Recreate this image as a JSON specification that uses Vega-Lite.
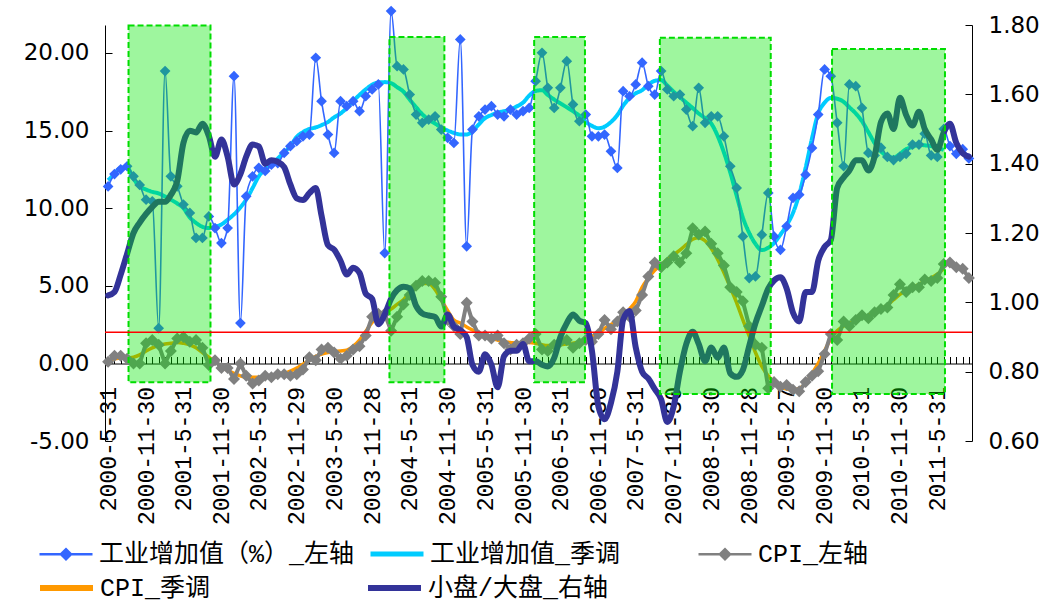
{
"$schema": "https://vega.github.io/schema/vega-lite/v6.json",
"width": 867, "height": 416,
"autosize": {"type": "none"},
"padding": {"left": 105, "top": 25, "right": 73, "bottom": 162},
"background": "white",
"config": {"view": {"stroke": null}, "legend": {"labelFont": "Liberation Mono, Noto Sans CJK SC", "labelFontSize": 25, "labelColor": "#000000", "labelLimit": 500, "symbolSize": 400, "labelOffset": 20.5, "gridAlign": "all"}},
"datasets": {
"m": [
{"d":"2000-05-01","ip":11.4,"ipsa":11.8,"cpi":0.1,"cpisa":0.2,"r":1.02},
{"d":"2000-06-01","ip":12.2,"ipsa":12.2,"cpi":0.5,"cpisa":0.3,"r":1.03},
{"d":"2000-07-01","ip":12.5,"ipsa":12.6,"cpi":0.5,"cpisa":0.35,"r":1.08},
{"d":"2000-08-01","ip":12.7,"ipsa":12.6,"cpi":0.3,"cpisa":0.35,"r":1.14},
{"d":"2000-09-01","ip":12.05,"ipsa":11.9,"cpi":0.0,"cpisa":0.4,"r":1.20},
{"d":"2000-10-01","ip":11.5,"ipsa":11.4,"cpi":0.0,"cpisa":0.55,"r":1.23},
{"d":"2000-11-01","ip":10.55,"ipsa":11.2,"cpi":1.3,"cpisa":0.8,"r":1.255},
{"d":"2000-12-01","ip":10.44,"ipsa":11.05,"cpi":1.5,"cpisa":1.0,"r":1.275},
{"d":"2001-01-01","ip":2.27,"ipsa":10.95,"cpi":1.2,"cpisa":1.15,"r":1.29},
{"d":"2001-02-01","ip":18.83,"ipsa":10.75,"cpi":0.0,"cpisa":1.25,"r":1.29},
{"d":"2001-03-01","ip":12.05,"ipsa":10.55,"cpi":0.8,"cpisa":1.3,"r":1.31},
{"d":"2001-04-01","ip":11.41,"ipsa":10.3,"cpi":1.6,"cpisa":1.35,"r":1.35},
{"d":"2001-05-01","ip":10.23,"ipsa":10.0,"cpi":1.7,"cpisa":1.3,"r":1.46},
{"d":"2001-06-01","ip":9.69,"ipsa":9.4,"cpi":1.4,"cpisa":1.2,"r":1.495},
{"d":"2001-07-01","ip":8.08,"ipsa":9.05,"cpi":1.5,"cpisa":1.0,"r":1.49},
{"d":"2001-08-01","ip":8.08,"ipsa":8.8,"cpi":1.0,"cpisa":0.7,"r":1.515},
{"d":"2001-09-01","ip":9.47,"ipsa":8.72,"cpi":-0.1,"cpisa":0.4,"r":1.48},
{"d":"2001-10-01","ip":8.72,"ipsa":8.8,"cpi":0.2,"cpisa":0.1,"r":1.42},
{"d":"2001-11-01","ip":7.75,"ipsa":8.95,"cpi":-0.3,"cpisa":-0.2,"r":1.47},
{"d":"2001-12-01","ip":8.72,"ipsa":9.25,"cpi":-0.3,"cpisa":-0.45,"r":1.42},
{"d":"2002-01-01","ip":18.5,"ipsa":9.6,"cpi":-1.0,"cpisa":-0.65,"r":1.34},
{"d":"2002-02-01","ip":2.6,"ipsa":10.05,"cpi":0.0,"cpisa":-0.8,"r":1.37},
{"d":"2002-03-01","ip":10.76,"ipsa":10.55,"cpi":-0.8,"cpisa":-0.9,"r":1.42},
{"d":"2002-04-01","ip":12.05,"ipsa":11.3,"cpi":-1.3,"cpisa":-0.9,"r":1.455},
{"d":"2002-05-01","ip":12.6,"ipsa":12.05,"cpi":-1.1,"cpisa":-0.9,"r":1.45},
{"d":"2002-06-01","ip":12.4,"ipsa":12.5,"cpi":-0.8,"cpisa":-0.85,"r":1.40},
{"d":"2002-07-01","ip":12.8,"ipsa":12.8,"cpi":-0.9,"cpisa":-0.8,"r":1.41},
{"d":"2002-08-01","ip":12.9,"ipsa":13.2,"cpi":-0.7,"cpisa":-0.75,"r":1.405},
{"d":"2002-09-01","ip":13.56,"ipsa":13.6,"cpi":-0.7,"cpisa":-0.65,"r":1.39},
{"d":"2002-10-01","ip":13.99,"ipsa":14.0,"cpi":-0.8,"cpisa":-0.5,"r":1.34},
{"d":"2002-11-01","ip":14.31,"ipsa":14.6,"cpi":-0.7,"cpisa":-0.3,"r":1.30},
{"d":"2002-12-01","ip":14.63,"ipsa":14.9,"cpi":-0.4,"cpisa":-0.05,"r":1.295},
{"d":"2003-01-01","ip":14.74,"ipsa":15.1,"cpi":0.4,"cpisa":0.2,"r":1.315},
{"d":"2003-02-01","ip":19.69,"ipsa":15.2,"cpi":0.2,"cpisa":0.45,"r":1.33},
{"d":"2003-03-01","ip":16.89,"ipsa":15.35,"cpi":0.9,"cpisa":0.6,"r":1.25},
{"d":"2003-04-01","ip":14.74,"ipsa":15.55,"cpi":1.0,"cpisa":0.7,"r":1.165},
{"d":"2003-05-01","ip":13.56,"ipsa":15.85,"cpi":0.7,"cpisa":0.75,"r":1.152},
{"d":"2003-06-01","ip":16.89,"ipsa":16.1,"cpi":0.3,"cpisa":0.8,"r":1.12},
{"d":"2003-07-01","ip":16.57,"ipsa":16.45,"cpi":0.5,"cpisa":0.85,"r":1.08},
{"d":"2003-08-01","ip":16.89,"ipsa":16.9,"cpi":0.9,"cpisa":1.1,"r":1.10},
{"d":"2003-09-01","ip":16.25,"ipsa":17.3,"cpi":1.1,"cpisa":1.5,"r":1.085},
{"d":"2003-10-01","ip":17.21,"ipsa":17.65,"cpi":1.8,"cpisa":2.05,"r":1.025},
{"d":"2003-11-01","ip":17.65,"ipsa":17.95,"cpi":3.0,"cpisa":2.65,"r":1.01},
{"d":"2003-12-01","ip":17.97,"ipsa":18.1,"cpi":3.2,"cpisa":3.0,"r":0.937},
{"d":"2004-01-01","ip":7.11,"ipsa":18.12,"cpi":3.2,"cpisa":3.25,"r":0.965},
{"d":"2004-02-01","ip":22.7,"ipsa":18.05,"cpi":2.1,"cpisa":3.5,"r":1.01},
{"d":"2004-03-01","ip":19.15,"ipsa":17.8,"cpi":3.0,"cpisa":3.8,"r":1.035},
{"d":"2004-04-01","ip":18.94,"ipsa":17.5,"cpi":3.8,"cpisa":4.1,"r":1.045},
{"d":"2004-05-01","ip":17.32,"ipsa":17.0,"cpi":4.4,"cpisa":4.6,"r":1.04},
{"d":"2004-06-01","ip":16.03,"ipsa":16.5,"cpi":5.0,"cpisa":5.0,"r":0.99},
{"d":"2004-07-01","ip":15.5,"ipsa":16.05,"cpi":5.3,"cpisa":5.15,"r":0.968},
{"d":"2004-08-01","ip":15.71,"ipsa":15.7,"cpi":5.3,"cpisa":5.15,"r":0.962},
{"d":"2004-09-01","ip":15.92,"ipsa":15.45,"cpi":5.2,"cpisa":4.75,"r":0.958},
{"d":"2004-10-01","ip":15.06,"ipsa":15.2,"cpi":4.3,"cpisa":4.1,"r":0.93},
{"d":"2004-11-01","ip":14.53,"ipsa":15.0,"cpi":2.8,"cpisa":3.4,"r":0.965},
{"d":"2004-12-01","ip":14.2,"ipsa":14.85,"cpi":2.4,"cpisa":2.8,"r":0.93},
{"d":"2005-01-01","ip":20.87,"ipsa":14.75,"cpi":1.9,"cpisa":2.6,"r":0.92},
{"d":"2005-02-01","ip":7.54,"ipsa":14.75,"cpi":3.9,"cpisa":2.35,"r":0.90},
{"d":"2005-03-01","ip":15.06,"ipsa":14.95,"cpi":2.7,"cpisa":2.15,"r":0.82},
{"d":"2005-04-01","ip":15.92,"ipsa":15.4,"cpi":1.8,"cpisa":1.95,"r":0.80},
{"d":"2005-05-01","ip":16.35,"ipsa":15.8,"cpi":1.8,"cpisa":1.8,"r":0.85},
{"d":"2005-06-01","ip":16.57,"ipsa":16.0,"cpi":1.6,"cpisa":1.65,"r":0.82},
{"d":"2005-07-01","ip":16.03,"ipsa":16.15,"cpi":1.8,"cpisa":1.5,"r":0.755},
{"d":"2005-08-01","ip":15.92,"ipsa":16.25,"cpi":1.3,"cpisa":1.4,"r":0.845},
{"d":"2005-09-01","ip":16.35,"ipsa":16.35,"cpi":0.9,"cpisa":1.35,"r":0.86},
{"d":"2005-10-01","ip":16.03,"ipsa":16.55,"cpi":1.2,"cpisa":1.3,"r":0.86},
{"d":"2005-11-01","ip":16.25,"ipsa":16.8,"cpi":1.3,"cpisa":1.35,"r":0.88},
{"d":"2005-12-01","ip":16.46,"ipsa":17.25,"cpi":1.6,"cpisa":1.35,"r":0.83},
{"d":"2006-01-01","ip":18.18,"ipsa":17.55,"cpi":1.9,"cpisa":1.3,"r":0.83},
{"d":"2006-02-01","ip":20.01,"ipsa":17.6,"cpi":0.9,"cpisa":1.2,"r":0.82},
{"d":"2006-03-01","ip":17.75,"ipsa":17.3,"cpi":0.8,"cpisa":1.15,"r":0.815},
{"d":"2006-04-01","ip":16.46,"ipsa":17.0,"cpi":1.2,"cpisa":1.15,"r":0.84},
{"d":"2006-05-01","ip":17.75,"ipsa":16.75,"cpi":1.4,"cpisa":1.2,"r":0.90},
{"d":"2006-06-01","ip":19.47,"ipsa":16.5,"cpi":1.5,"cpisa":1.25,"r":0.94},
{"d":"2006-07-01","ip":16.68,"ipsa":16.25,"cpi":1.0,"cpisa":1.3,"r":0.965},
{"d":"2006-08-01","ip":15.6,"ipsa":15.95,"cpi":1.3,"cpisa":1.4,"r":0.947},
{"d":"2006-09-01","ip":16.03,"ipsa":15.55,"cpi":1.5,"cpisa":1.6,"r":0.94},
{"d":"2006-10-01","ip":14.63,"ipsa":15.3,"cpi":1.4,"cpisa":1.75,"r":0.86},
{"d":"2006-11-01","ip":14.63,"ipsa":15.15,"cpi":1.9,"cpisa":1.95,"r":0.70},
{"d":"2006-12-01","ip":14.74,"ipsa":15.25,"cpi":2.8,"cpisa":2.25,"r":0.663},
{"d":"2007-01-01","ip":13.66,"ipsa":15.55,"cpi":2.2,"cpisa":2.5,"r":0.71},
{"d":"2007-02-01","ip":12.59,"ipsa":16.0,"cpi":2.7,"cpisa":2.75,"r":0.80},
{"d":"2007-03-01","ip":17.54,"ipsa":16.6,"cpi":3.3,"cpisa":3.05,"r":0.95},
{"d":"2007-04-01","ip":17.21,"ipsa":17.1,"cpi":3.0,"cpisa":3.5,"r":0.975},
{"d":"2007-05-01","ip":17.97,"ipsa":17.4,"cpi":3.4,"cpisa":4.0,"r":0.87},
{"d":"2007-06-01","ip":19.37,"ipsa":17.6,"cpi":4.4,"cpisa":4.9,"r":0.80},
{"d":"2007-07-01","ip":17.86,"ipsa":17.95,"cpi":5.6,"cpisa":5.5,"r":0.78},
{"d":"2007-08-01","ip":17.32,"ipsa":18.2,"cpi":6.5,"cpisa":6.0,"r":0.75},
{"d":"2007-09-01","ip":18.83,"ipsa":18.25,"cpi":6.2,"cpisa":6.35,"r":0.72},
{"d":"2007-10-01","ip":17.65,"ipsa":17.9,"cpi":6.5,"cpisa":6.7,"r":0.655},
{"d":"2007-11-01","ip":17.21,"ipsa":17.5,"cpi":6.9,"cpisa":7.0,"r":0.70},
{"d":"2007-12-01","ip":17.32,"ipsa":17.15,"cpi":6.5,"cpisa":7.3,"r":0.80},
{"d":"2008-01-01","ip":16.35,"ipsa":16.8,"cpi":7.1,"cpisa":7.65,"r":0.88},
{"d":"2008-02-01","ip":15.28,"ipsa":16.45,"cpi":8.7,"cpisa":8.0,"r":0.915},
{"d":"2008-03-01","ip":17.75,"ipsa":16.1,"cpi":8.3,"cpisa":8.1,"r":0.88},
{"d":"2008-04-01","ip":15.5,"ipsa":15.8,"cpi":8.5,"cpisa":7.9,"r":0.83},
{"d":"2008-05-01","ip":15.92,"ipsa":15.45,"cpi":7.7,"cpisa":7.4,"r":0.87},
{"d":"2008-06-01","ip":15.92,"ipsa":14.65,"cpi":7.1,"cpisa":6.7,"r":0.84},
{"d":"2008-07-01","ip":14.63,"ipsa":13.6,"cpi":6.3,"cpisa":5.85,"r":0.87},
{"d":"2008-08-01","ip":12.7,"ipsa":12.3,"cpi":4.9,"cpisa":4.9,"r":0.795},
{"d":"2008-09-01","ip":11.3,"ipsa":10.8,"cpi":4.6,"cpisa":3.9,"r":0.785},
{"d":"2008-10-01","ip":8.18,"ipsa":9.4,"cpi":4.0,"cpisa":2.8,"r":0.805},
{"d":"2008-11-01","ip":5.5,"ipsa":8.4,"cpi":2.4,"cpisa":1.75,"r":0.875},
{"d":"2008-12-01","ip":5.6,"ipsa":7.7,"cpi":1.2,"cpisa":0.7,"r":0.94},
{"d":"2009-01-01","ip":8.29,"ipsa":7.3,"cpi":1.0,"cpisa":-0.2,"r":0.99},
{"d":"2009-02-01","ip":10.98,"ipsa":7.45,"cpi":-1.6,"cpisa":-0.8,"r":1.04},
{"d":"2009-03-01","ip":8.18,"ipsa":7.75,"cpi":-1.2,"cpisa":-1.2,"r":1.063},
{"d":"2009-04-01","ip":7.32,"ipsa":8.3,"cpi":-1.5,"cpisa":-1.5,"r":1.072},
{"d":"2009-05-01","ip":8.83,"ipsa":8.9,"cpi":-1.4,"cpisa":-1.65,"r":1.04},
{"d":"2009-06-01","ip":10.66,"ipsa":9.7,"cpi":-1.7,"cpisa":-1.7,"r":0.97},
{"d":"2009-07-01","ip":10.87,"ipsa":10.9,"cpi":-1.8,"cpisa":-1.6,"r":0.945},
{"d":"2009-08-01","ip":12.16,"ipsa":12.6,"cpi":-1.2,"cpisa":-1.3,"r":1.03},
{"d":"2009-09-01","ip":13.88,"ipsa":14.5,"cpi":-0.8,"cpisa":-0.65,"r":1.03},
{"d":"2009-10-01","ip":16.03,"ipsa":16.1,"cpi":-0.5,"cpisa":0.0,"r":1.12},
{"d":"2009-11-01","ip":18.94,"ipsa":16.8,"cpi":0.6,"cpisa":0.8,"r":1.16},
{"d":"2009-12-01","ip":18.5,"ipsa":17.1,"cpi":1.9,"cpisa":1.6,"r":1.18},
{"d":"2010-01-01","ip":15.5,"ipsa":17.05,"cpi":1.5,"cpisa":2.1,"r":1.33},
{"d":"2010-02-01","ip":12.7,"ipsa":16.85,"cpi":2.7,"cpisa":2.4,"r":1.36},
{"d":"2010-03-01","ip":17.97,"ipsa":16.5,"cpi":2.4,"cpisa":2.6,"r":1.38},
{"d":"2010-04-01","ip":17.86,"ipsa":16.1,"cpi":2.8,"cpisa":2.75,"r":1.41},
{"d":"2010-05-01","ip":16.46,"ipsa":15.6,"cpi":3.1,"cpisa":2.95,"r":1.41},
{"d":"2010-06-01","ip":13.56,"ipsa":14.9,"cpi":2.9,"cpisa":3.1,"r":1.38},
{"d":"2010-07-01","ip":13.4,"ipsa":14.2,"cpi":3.3,"cpisa":3.3,"r":1.42},
{"d":"2010-08-01","ip":13.9,"ipsa":13.65,"cpi":3.5,"cpisa":3.5,"r":1.52},
{"d":"2010-09-01","ip":13.3,"ipsa":13.35,"cpi":3.6,"cpisa":3.75,"r":1.545},
{"d":"2010-10-01","ip":13.1,"ipsa":13.25,"cpi":4.4,"cpisa":4.1,"r":1.50},
{"d":"2010-11-01","ip":13.3,"ipsa":13.5,"cpi":5.1,"cpisa":4.45,"r":1.59},
{"d":"2010-12-01","ip":13.5,"ipsa":13.8,"cpi":4.6,"cpisa":4.7,"r":1.54},
{"d":"2011-01-01","ip":14.1,"ipsa":13.95,"cpi":4.9,"cpisa":4.9,"r":1.51},
{"d":"2011-02-01","ip":14.1,"ipsa":14.1,"cpi":4.9,"cpisa":5.1,"r":1.55},
{"d":"2011-03-01","ip":14.8,"ipsa":14.05,"cpi":5.4,"cpisa":5.3,"r":1.50},
{"d":"2011-04-01","ip":13.4,"ipsa":14.0,"cpi":5.3,"cpisa":5.5,"r":1.47},
{"d":"2011-05-01","ip":13.3,"ipsa":13.9,"cpi":5.5,"cpisa":5.75,"r":1.44},
{"d":"2011-06-01","ip":15.1,"ipsa":13.75,"cpi":6.4,"cpisa":6.1,"r":1.49},
{"d":"2011-07-01","ip":14.0,"cpi":6.5,"r":1.515},
{"d":"2011-08-01","ip":13.5,"cpi":6.2,"r":1.46},
{"d":"2011-09-01","ip":13.8,"cpi":6.1,"r":1.43},
{"d":"2011-10-01","ip":13.2,"cpi":5.5,"r":1.42}
],
"z": [
{"start":"2000-08-08","end":"2001-09-09","top":21.77,"bottom":-1.22},
{"start":"2004-01-24","end":"2004-10-16","top":21.02,"bottom":-1.22},
{"start":"2005-12-25","end":"2006-08-28","top":21.02,"bottom":-1.22},
{"start":"2007-08-26","end":"2009-02-13","top":20.98,"bottom":-1.97},
{"start":"2009-12-07","end":"2011-06-07","top":20.25,"bottom":-1.97}
]
},
"resolve": {"scale": {"y": "independent"}, "axis": {"y": "independent"}},
"layer": [
{
"data": {"name": "m"},
"layer": [
{"mark": {"type": "line", "strokeWidth": 4, "interpolate": "monotone", "color": "#00CCFF"},
 "encoding": {
  "x": {"field": "d", "type": "temporal", "scale": {"type": "utc", "domain": [{"year": 2000, "month": 4, "date": 16, "utc": true}, {"year": 2011, "month": 10, "date": 16, "utc": true}]},
   "axis": {"title": null, "offset": -77.5, "grid": false, "domainColor": "#000000", "domainWidth": 1, "tickColor": "#000000", "tickSize": -7, "tickWidth": 1,
    "tickCount": {"interval": "month", "step": 1},
    "labelExpr": "(utcmonth(datum.value) == 4 || utcmonth(datum.value) == 10) ? (utcyear(datum.value) + '-' + (utcmonth(datum.value) + 1) + '-' + (indexof(['2002-11','2003-05','2003-11','2008-05','2008-11','2009-05'], utcFormat(datum.value, '%Y-%m')) >= 0 ? ['29','30','28','30','28','27'][indexof(['2002-11','2003-05','2003-11','2008-05','2008-11','2009-05'], utcFormat(datum.value, '%Y-%m'))] : (utcmonth(datum.value) == 4 ? '31' : '30'))) : ''",
    "labelAngle": 270, "labelAlign": "right", "labelBaseline": "middle", "labelPadding": 30, "labelFont": "Liberation Mono", "labelFontSize": 23, "labelColor": "#000000", "labelOverlap": false, "labelFlush": false, "labelBound": false}},
  "y": {"field": "ipsa", "type": "quantitative", "scale": {"domain": [-5, 21.8], "nice": false, "zero": false},
   "axis": {"title": null, "orient": "left", "values": [-5, 0, 5, 10, 15, 20], "labelExpr": "replace(format(datum.value, '.2f'), '\u2212', '-')", "grid": false, "domainColor": "#000000", "tickColor": "#000000", "tickSize": -7, "labelPadding": 23, "labelFont": "DejaVu Sans", "labelFontSize": 23, "labelColor": "#000000", "labelFlush": false, "labelOverlap": false, "labelBound": false}},
  "strokeDash": {"datum": "工业增加值_季调", "type": "nominal", "scale": {"domain": ["工业增加值_季调"], "range": [[1, 0]]},
   "legend": {"title": null, "orient": "none", "legendX": 279.5, "legendY": 516.5, "symbolType": "M-2.65,0H2.65", "symbolStrokeWidth": 5, "symbolStrokeColor": "#00CCFF"}}
 }},
{"mark": {"type": "line", "strokeWidth": 1.6, "interpolate": "monotone"},
 "encoding": {
  "x": {"field": "d", "type": "temporal", "scale": {"type": "utc", "domain": [{"year": 2000, "month": 4, "date": 16, "utc": true}, {"year": 2011, "month": 10, "date": 16, "utc": true}]}, "axis": {"title": null}},
  "y": {"field": "ip", "type": "quantitative", "scale": {"domain": [-5, 21.8], "nice": false, "zero": false}, "axis": {"title": null}},
  "color": {"datum": "工业增加值（%）_左轴", "type": "nominal", "scale": {"domain": ["工业增加值（%）_左轴", "CPI_左轴"], "range": ["#3366FF", "#808080"]},
   "legend": {"title": null, "orient": "none", "legendX": -51.5, "legendY": 516.5, "direction": "horizontal", "columns": 2, "columnPadding": 339, "symbolType": "M-2.65,0H2.65M-0.5,0L0,-0.5L0.5,0L0,0.5Z", "symbolStrokeWidth": 2.5}}
 }},
{"mark": {"type": "point", "shape": "diamond", "filled": true, "size": 115, "opacity": 1},
 "encoding": {
  "x": {"field": "d", "type": "temporal", "scale": {"type": "utc", "domain": [{"year": 2000, "month": 4, "date": 16, "utc": true}, {"year": 2011, "month": 10, "date": 16, "utc": true}]}, "axis": {"title": null}},
  "y": {"field": "ip", "type": "quantitative", "scale": {"domain": [-5, 21.8], "nice": false, "zero": false}, "axis": {"title": null}},
  "color": {"datum": "工业增加值（%）_左轴", "type": "nominal", "scale": {"domain": ["工业增加值（%）_左轴", "CPI_左轴"], "range": ["#3366FF", "#808080"]}}
 }},
{"mark": {"type": "line", "strokeWidth": 3.5, "interpolate": "monotone"},
 "encoding": {
  "x": {"field": "d", "type": "temporal", "scale": {"type": "utc", "domain": [{"year": 2000, "month": 4, "date": 16, "utc": true}, {"year": 2011, "month": 10, "date": 16, "utc": true}]}, "axis": {"title": null}},
  "y": {"field": "cpisa", "type": "quantitative", "scale": {"domain": [-5, 21.8], "nice": false, "zero": false}, "axis": {"title": null}},
  "stroke": {"datum": "CPI_季调", "type": "nominal", "scale": {"domain": ["CPI_季调", "小盘/大盘_右轴"], "range": ["#FF9900", "#333399"]},
   "legend": {"title": null, "orient": "none", "legendX": -51.5, "legendY": 550, "direction": "horizontal", "columns": 2, "columnPadding": 75, "symbolType": "M-2.65,0H2.65", "symbolStrokeWidth": 6}}
 }},
{"mark": {"type": "line", "strokeWidth": 4},
 "encoding": {
  "x": {"field": "d", "type": "temporal", "scale": {"type": "utc", "domain": [{"year": 2000, "month": 4, "date": 16, "utc": true}, {"year": 2011, "month": 10, "date": 16, "utc": true}]}, "axis": {"title": null}},
  "y": {"field": "cpi", "type": "quantitative", "scale": {"domain": [-5, 21.8], "nice": false, "zero": false}, "axis": {"title": null}},
  "color": {"datum": "CPI_左轴", "type": "nominal", "scale": {"domain": ["工业增加值（%）_左轴", "CPI_左轴"], "range": ["#3366FF", "#808080"]}}
 }},
{"mark": {"type": "point", "shape": "diamond", "filled": true, "size": 144, "opacity": 1},
 "encoding": {
  "x": {"field": "d", "type": "temporal", "scale": {"type": "utc", "domain": [{"year": 2000, "month": 4, "date": 16, "utc": true}, {"year": 2011, "month": 10, "date": 16, "utc": true}]}, "axis": {"title": null}},
  "y": {"field": "cpi", "type": "quantitative", "scale": {"domain": [-5, 21.8], "nice": false, "zero": false}, "axis": {"title": null}},
  "color": {"datum": "CPI_左轴", "type": "nominal", "scale": {"domain": ["工业增加值（%）_左轴", "CPI_左轴"], "range": ["#3366FF", "#808080"]}}
 }}
]
},
{
"data": {"name": "m"},
"mark": {"type": "line", "strokeWidth": 6, "interpolate": "monotone", "strokeCap": "round", "strokeJoin": "round"},
"encoding": {
 "x": {"field": "d", "type": "temporal", "scale": {"type": "utc", "domain": [{"year": 2000, "month": 4, "date": 16, "utc": true}, {"year": 2011, "month": 10, "date": 16, "utc": true}]}, "axis": {"title": null}},
 "y": {"field": "r", "type": "quantitative", "scale": {"domain": [0.6, 1.8], "nice": false, "zero": false},
  "axis": {"title": null, "orient": "right", "values": [0.6, 0.8, 1.0, 1.2, 1.4, 1.6, 1.8], "format": ".2f", "grid": false, "domainColor": "#000000", "tickColor": "#000000", "tickSize": -7, "labelPadding": 23, "labelFont": "DejaVu Sans", "labelFontSize": 23, "labelColor": "#000000", "labelFlush": false, "labelOverlap": false, "labelBound": false}},
 "stroke": {"datum": "小盘/大盘_右轴", "type": "nominal", "scale": {"domain": ["CPI_季调", "小盘/大盘_右轴"], "range": ["#FF9900", "#333399"]}}
}
},
{
"layer": [
{"data": {"name": "z"},
 "mark": {"type": "rect", "fill": "#00E800", "fillOpacity": 0.38, "stroke": "#00DD00", "strokeWidth": 2, "strokeDash": [6, 3]},
 "encoding": {
  "x": {"field": "start", "type": "temporal", "scale": {"type": "utc", "domain": [{"year": 2000, "month": 4, "date": 16, "utc": true}, {"year": 2011, "month": 10, "date": 16, "utc": true}]}, "axis": {"title": null}},
  "x2": {"field": "end"},
  "y": {"field": "top", "type": "quantitative", "scale": {"domain": [-5, 21.8], "nice": false, "zero": false}, "axis": null},
  "y2": {"field": "bottom"}
 }},
{"data": {"values": [{"level": 2}]},
 "mark": {"type": "rule", "color": "#FF0000", "strokeWidth": 1.5},
 "encoding": {
  "y": {"field": "level", "type": "quantitative", "scale": {"domain": [-5, 21.8], "nice": false, "zero": false}, "axis": null}
 }}
]
}
]
}
